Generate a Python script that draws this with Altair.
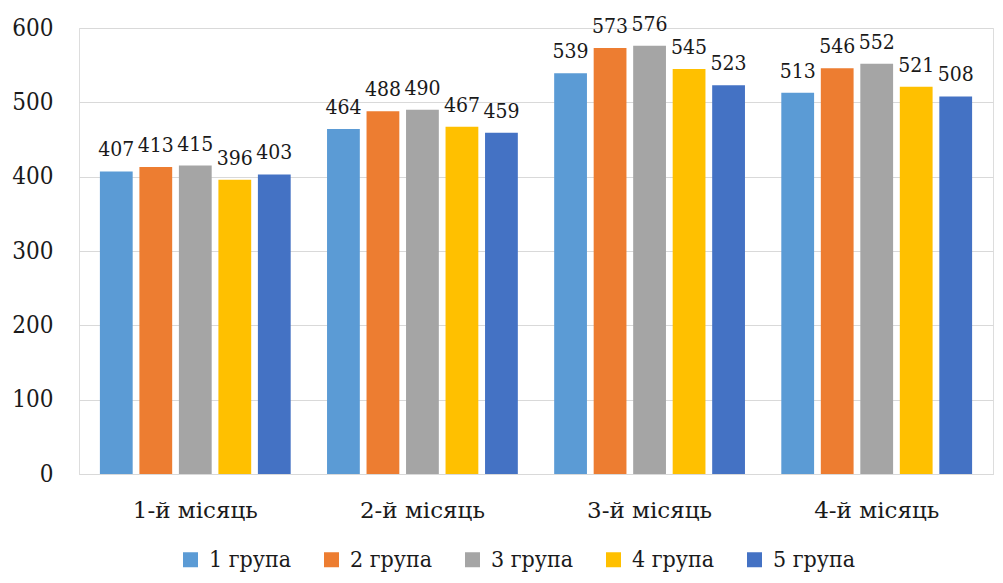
import altair as alt
import pandas as pd

months = ["1-й місяць", "2-й місяць", "3-й місяць", "4-й місяць"]
groups = ["1 група", "2 група", "3 група", "4 група", "5 група"]
group1 = [407, 464, 539, 513]
group2 = [413, 488, 573, 546]
group3 = [415, 490, 576, 552]
group4 = [396, 467, 545, 521]
group5 = [403, 459, 523, 508]
y_ticks = [0, 100, 200, 300, 400, 500, 600]
colors = ["#5B9BD5", "#ED7D31", "#A5A5A5", "#FFC000", "#4472C4"]

series = [group1, group2, group3, group4, group5]
rows = []
for g, vals in zip(groups, series):
    for m, v in zip(months, vals):
        rows.append({"month": m, "group": g, "value": v})
df = pd.DataFrame(rows)

FONT = "DejaVu Serif"
FONT_C = "DejaVu Serif Condensed"
TEXT = "#1a1a1a"

x_enc = alt.X(
    "month:N",
    sort=months,
    title=None,
    scale=alt.Scale(paddingInner=0.16, paddingOuter=0.092),
    axis=alt.Axis(
        labelAngle=0,
        labelFont=FONT,
        labelFontSize=23,
        labelColor=TEXT,
        labelPadding=25,
        ticks=False,
        tickSize=0,
        domain=True,
        domainColor="#d9d9d9",
        domainWidth=1,
        grid=False,
    ),
)
xoff_enc = alt.XOffset(
    "group:N", sort=groups, scale=alt.Scale(paddingInner=0.17, paddingOuter=0)
)
y_enc = alt.Y(
    "value:Q",
    title=None,
    scale=alt.Scale(domain=[0, 600], nice=False),
    axis=alt.Axis(
        values=y_ticks,
        labelFont=FONT_C,
        labelFontSize=24,
        labelColor=TEXT,
        labelPadding=26,
        ticks=False,
        tickSize=0,
        domain=False,
        grid=True,
        gridColor="#d9d9d9",
        gridWidth=1,
    ),
)
color_enc = alt.Color(
    "group:N",
    sort=groups,
    scale=alt.Scale(domain=groups, range=colors),
    legend=alt.Legend(
        title=None,
        orient="none",
        direction="horizontal",
        legendX=100,
        legendY=520,
        symbolType="square",
        symbolSize=225,
        symbolStrokeWidth=0,
        labelFont=FONT_C,
        labelFontSize=23,
        labelColor=TEXT,
        labelOffset=7,
        columnPadding=28,
        padding=0,
    ),
)

bars = alt.Chart(df).mark_bar().encode(
    x=x_enc, xOffset=xoff_enc, y=y_enc, color=color_enc
)

labels = alt.Chart(df).mark_text(
    font=FONT_C, fontSize=21, color=TEXT, baseline="alphabetic", dy=-15
).encode(
    x=alt.X("month:N", sort=months),
    xOffset=alt.XOffset("group:N", sort=groups),
    y=alt.Y("value:Q"),
    text=alt.Text("value:Q"),
)

chart = (
    alt.layer(bars, labels)
    .properties(
        width=914,
        height=446,
        autosize=alt.AutoSizeParams(type="none"),
        padding={"left": 71, "top": 20, "right": 2, "bottom": 100},
    )
    .configure_view(stroke=None)
    .configure(font=FONT)
)

chart.save("out.html", embed_options={"renderer": "svg", "actions": False})
